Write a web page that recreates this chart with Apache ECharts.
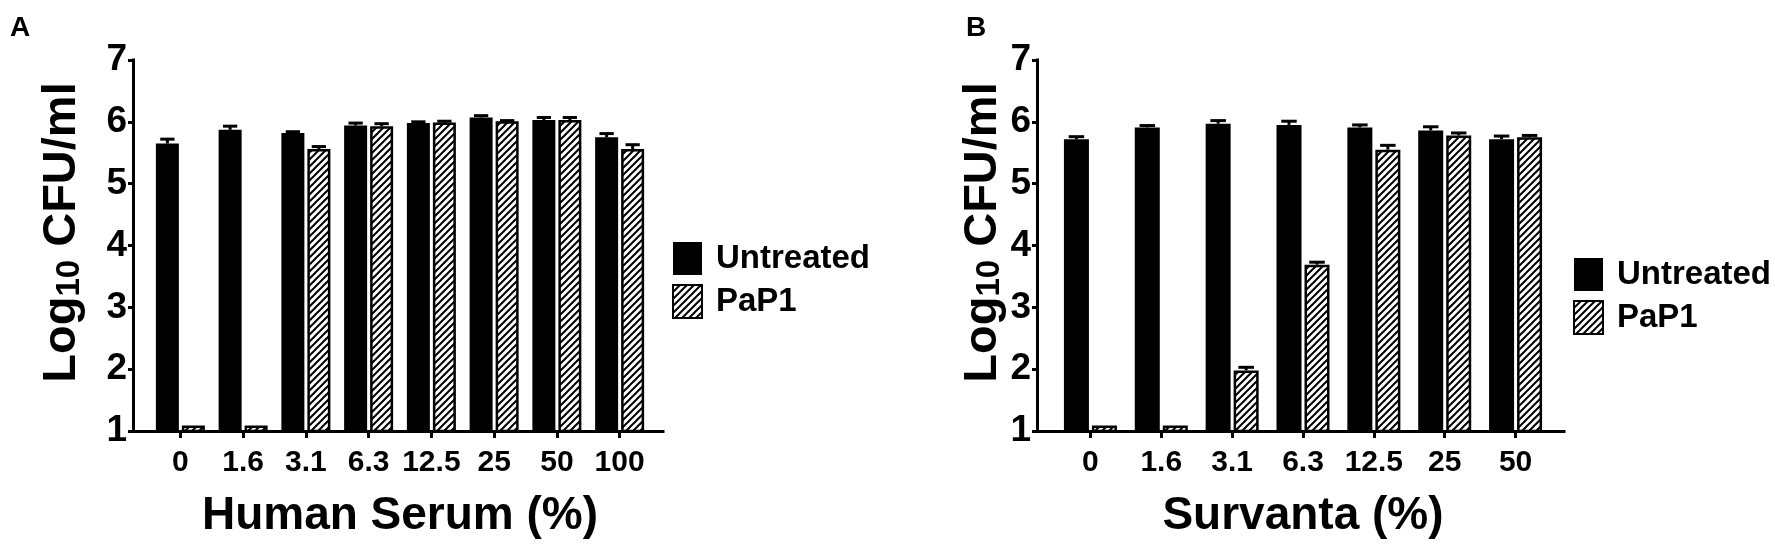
<!DOCTYPE html>
<html>
<head>
<meta charset="utf-8">
<script src="https://cdn.jsdelivr.net/npm/echarts@6/dist/echarts.min.js"></script>
<style>
html,body{margin:0;padding:0;background:#fff;}
#chart{width:1775px;height:546px;}
</style>
</head>
<body>
<div id="chart"></div>
<script>
// ---- data ----
const catsA = ['0', '1.6', '3.1', '6.3', '12.5', '25', '50', '100'];
const untreatedA = [5.65, 5.87, 5.82, 5.94, 5.98, 6.07, 6.03, 5.75];
const untreatedErrA = [0.07, 0.06, 0.02, 0.04, 0.02, 0.03, 0.04, 0.06];
const pap1A = [1.09, 1.09, 5.56, 5.93, 5.99, 6.01, 6.03, 5.56];
const pap1ErrA = [0, 0, 0.04, 0.04, 0.02, 0.01, 0.04, 0.07];

const catsB = ['0', '1.6', '3.1', '6.3', '12.5', '25', '50'];
const untreatedB = [5.72, 5.91, 5.97, 5.95, 5.91, 5.86, 5.72];
const untreatedErrB = [0.04, 0.03, 0.05, 0.06, 0.04, 0.06, 0.05];
const pap1B = [1.09, 1.09, 1.98, 3.69, 5.55, 5.78, 5.75];
const pap1ErrB = [0, 0, 0.05, 0.04, 0.07, 0.04, 0.03];

const yMin = 1, yMax = 7, yInterval = 1;
const seriesNames = ['Untreated', 'PaP1'];
const xTitleA = 'Human Serum (%)';
const xTitleB = 'Survanta (%)';

// ---- styles ----
const FONT = "'Liberation Sans', Arial, Helvetica, sans-serif";

function makeHatch() {
  const s = 7;
  const c = document.createElement('canvas');
  c.width = s; c.height = s;
  const g = c.getContext('2d');
  g.fillStyle = '#fff';
  g.fillRect(0, 0, s, s);
  g.strokeStyle = '#000';
  g.lineWidth = 2;
  g.lineCap = 'square';
  g.beginPath();
  g.moveTo(-1, s + 1); g.lineTo(s + 1, -1);
  g.moveTo(-s / 2 - 1, s / 2 + 1); g.lineTo(s / 2 + 1, -s / 2 - 1);
  g.moveTo(s / 2 - 1, s * 1.5 + 1); g.lineTo(s * 1.5 + 1, s / 2 - 1);
  g.stroke();
  return c;
}
const hatch = { image: makeHatch(), repeat: 'repeat' };

function errRender(sign, barW, gapW, capW) {
  return function (params, api) {
    const i = api.value(0), v = api.value(1), e = api.value(2);
    if (!e) return null;
    const p0 = api.coord([i, v]);
    const p1 = api.coord([i, v + e]);
    const x = p0[0] + sign * (barW + gapW) / 2;
    return {
      type: 'group',
      children: [
        { type: 'line', shape: { x1: x, y1: p0[1], x2: x, y2: p1[1] }, style: { stroke: '#000', lineWidth: 3 } },
        { type: 'line', shape: { x1: x - capW / 2, y1: p1[1], x2: x + capW / 2, y2: p1[1] }, style: { stroke: '#000', lineWidth: 3 } }
      ]
    };
  };
}

const yTitle = '{p|}{a|Log}{s|10}{a| CFU/ml}';
const yNameStyle = {
  rich: {
    p: { width: 26, lineHeight: 56, verticalAlign: 'bottom' },
    a: { fontFamily: FONT, fontWeight: 'bold', fontSize: 47, color: '#000', lineHeight: 56, verticalAlign: 'bottom' },
    s: { fontFamily: FONT, fontWeight: 'bold', fontSize: 33, color: '#000', lineHeight: 20, verticalAlign: 'bottom' }
  }
};

const TOP = 60, H = 371;
const panels = [
  { frameLeft: 133, frameW: 530, barLeft: 149, barW: 502, cats: catsA, u: untreatedA, ue: untreatedErrA, p: pap1A, pe: pap1ErrA,
    title: xTitleA, bw: 23, gap: 3, yGap: 47, xGap: 62, legendLeft: 672, legendTop: 242 },
  { frameLeft: 1037, frameW: 527, barLeft: 1055, barW: 496, cats: catsB, u: untreatedB, ue: untreatedErrB, p: pap1B, pe: pap1ErrB,
    title: xTitleB, bw: 25, gap: 3, yGap: 27, xGap: 62, legendLeft: 1573, legendTop: 258 }
];

const grid = [], xAxis = [], yAxis = [], series = [], legend = [];
panels.forEach((P, k) => {
  const gf = grid.length;
  grid.push({ left: P.frameLeft, top: TOP, width: P.frameW, height: H, containLabel: false });
  grid.push({ left: P.barLeft, top: TOP, width: P.barW, height: H, containLabel: false });
  const gb = gf + 1;
  // frame axes
  xAxis.push({ gridIndex: gf, type: 'value', min: 0, max: 1, axisLine: { show: true, lineStyle: { color: '#000', width: 3, cap: 'square' } },
    axisTick: { show: false }, axisLabel: { show: false }, splitLine: { show: false } });
  yAxis.push({ gridIndex: gf, type: 'value', min: yMin, max: yMax, interval: yInterval,
    axisLine: { show: true, lineStyle: { color: '#000', width: 3, cap: 'square' } },
    axisTick: { show: true, length: 5, lineStyle: { color: '#000', width: 3 } },
    axisLabel: { fontFamily: FONT, fontWeight: 'bold', fontSize: 37, color: '#000', margin: 6 },
    splitLine: { show: false },
    name: yTitle, nameLocation: 'middle', nameRotate: 90, nameGap: P.yGap, nameTextStyle: yNameStyle });
  // bar axes
  const xi = xAxis.length;
  xAxis.push({ gridIndex: gb, type: 'category', data: P.cats,
    axisLine: { show: false },
    axisTick: { show: true, alignWithLabel: true, length: 7, lineStyle: { color: '#000', width: 3 } },
    axisLabel: { fontFamily: FONT, fontWeight: 'bold', fontSize: 30, color: '#000', margin: 17, interval: 0 },
    splitLine: { show: false },
    name: P.title, nameLocation: 'middle', nameGap: P.xGap,
    nameTextStyle: { fontFamily: FONT, fontWeight: 'bold', fontSize: 46, color: '#000', verticalAlign: 'top' } });
  const yi = yAxis.length;
  yAxis.push({ gridIndex: gb, type: 'value', min: yMin, max: yMax, interval: yInterval, show: false });

  series.push({ name: seriesNames[0], type: 'bar', xAxisIndex: xi, yAxisIndex: yi, data: P.u,
    barWidth: P.bw, barGap: (P.gap / P.bw * 100) + '%',
    itemStyle: { color: '#000', borderColor: '#000', borderWidth: 0 }, emphasis: { disabled: true }, z: 2 });
  series.push({ name: seriesNames[1], type: 'bar', xAxisIndex: xi, yAxisIndex: yi, data: P.p,
    barWidth: P.bw, barGap: (P.gap / P.bw * 100) + '%',
    itemStyle: { color: hatch, borderColor: '#000', borderWidth: 2.5 }, emphasis: { disabled: true }, z: 2 });
  series.push({ type: 'custom', xAxisIndex: xi, yAxisIndex: yi, z: 5,
    renderItem: errRender(-1, P.bw, P.gap, P.bw * 0.62),
    data: P.cats.map((c, i) => [i, P.u[i], P.ue[i]]), encode: { x: 0, y: 1 } });
  series.push({ type: 'custom', xAxisIndex: xi, yAxisIndex: yi, z: 5,
    renderItem: errRender(1, P.bw, P.gap, P.bw * 0.62),
    data: P.cats.map((c, i) => [i, P.p[i], P.pe[i]]), encode: { x: 0, y: 1 } });

  legend.push({ data: seriesNames, orient: 'vertical', left: P.legendLeft, top: P.legendTop, padding: 0,
    itemWidth: 29, itemHeight: 33, itemGap: 9, icon: 'rect', selectedMode: false,
    textStyle: { fontFamily: FONT, fontWeight: 'bold', fontSize: 33, color: '#000', padding: [0, 0, 0, 9] } });
});

const chart = echarts.init(document.getElementById('chart'), null, { renderer: 'canvas' });
chart.setOption({
  animation: false,
  backgroundColor: '#fff',
  title: [
    { text: 'A', left: 10, top: 14, padding: 0, textStyle: { fontFamily: FONT, fontWeight: 'bold', fontSize: 28, color: '#000' } },
    { text: 'B', left: 966, top: 14, padding: 0, textStyle: { fontFamily: FONT, fontWeight: 'bold', fontSize: 28, color: '#000' } }
  ],
  grid, xAxis, yAxis, series, legend
});
</script>
</body>
</html>
